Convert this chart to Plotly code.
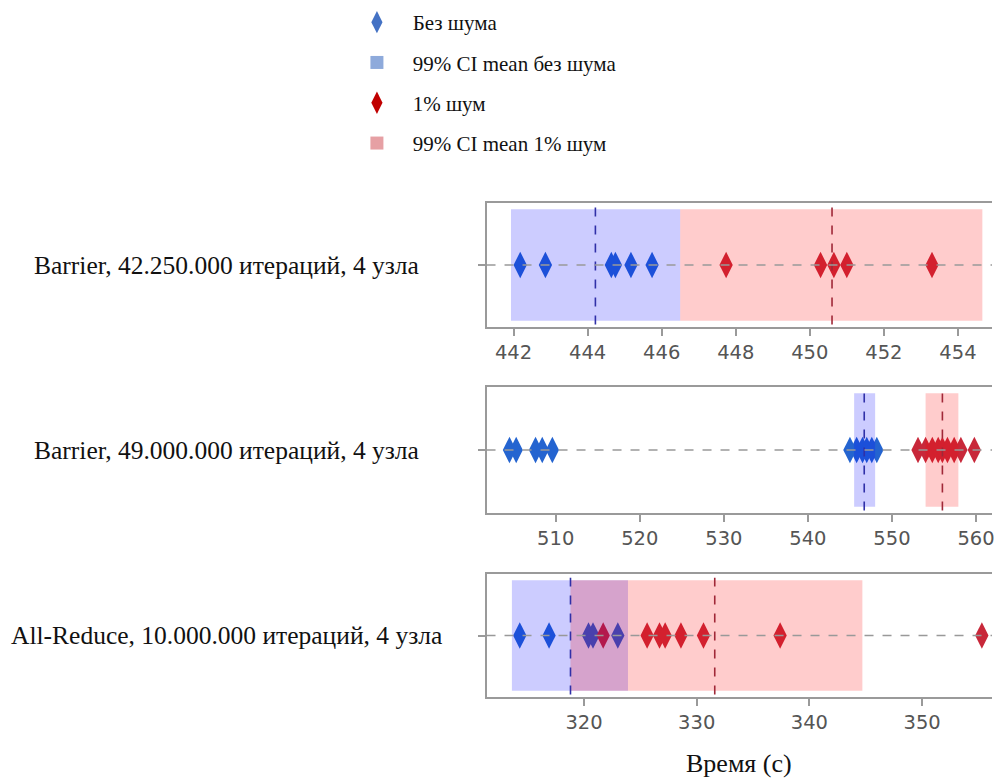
import plotly.graph_objects as go

W, H = 995, 778

# ---------------- data ----------------
row_labels = [
    "Barrier, 42.250.000 итераций, 4 узла",
    "Barrier, 49.000.000 итераций, 4 узла",
    "All-Reduce, 10.000.000 итераций, 4 узла",
]
no_noise_1 = [442.18, 442.86, 444.64, 444.75, 445.17, 445.74]
noise_1 = [447.74, 450.29, 450.65, 451.0, 453.3]
no_noise_2 = [504.5, 505.3, 507.6, 508.4, 509.6, 545.0, 545.8, 546.5, 547.0, 547.6, 548.2]
noise_2 = [553.1, 554.0, 554.8, 555.5, 556.0, 556.6, 557.4, 558.2, 559.8]
no_noise_3 = [314.3, 316.9, 320.4, 320.8, 323.0]
noise_3 = [321.7, 325.6, 326.7, 327.2, 328.6, 330.6, 337.4, 355.3]

no_noise = [no_noise_1, no_noise_2, no_noise_3]
noise = [noise_1, noise_2, noise_3]

mean_no_noise = [444.21, 546.7, 318.8]
mean_noise = [450.6, 556.0, 331.6]
ci_no_noise_lo = [441.93, 545.5, 313.6]
ci_no_noise_hi = [446.5, 548.0, 323.9]
ci_noise_lo = [446.5, 554.0, 318.8]
ci_noise_hi = [454.66, 557.9, 344.7]

x_ranges = [[441.27, 454.92], [501.77, 561.9], [311.35, 356.2]]
x_dticks = [2, 10, 10]

legend_names = ["Без шума", "99% CI mean без шума", "1% шум", "99% CI mean 1% шум"]
axis_title = "Время (с)"

# ---------------- styling ----------------
BLUE = "#2464d0"
RED = "#c8283a"
LEG_BLUE = "#4472c4"
LEG_BLUE_SQ = "#8eaadb"
LEG_RED = "#c00000"
LEG_RED_SQ = "#e6a0a4"
FRAME = "#9a9a9a"
SERIF = "Liberation Serif, Times New Roman, serif"
SANS = "DejaVu Sans, sans-serif"

# panel positions in pixels (top, bottom) from top of page
panels_px = [(203, 327), (387, 513), (574, 697)]
x_left_px = 488

fig = go.Figure()

for i in range(3):
    xa = "x" if i == 0 else f"x{i+1}"
    ya = "y" if i == 0 else f"y{i+1}"
    fig.add_trace(go.Scatter(
        x=no_noise[i], y=[0] * len(no_noise[i]), mode="markers",
        marker=dict(symbol="diamond-tall", size=19, color=BLUE, line=dict(width=0)),
        xaxis=xa, yaxis=ya, showlegend=False, hoverinfo="x"))
    fig.add_trace(go.Scatter(
        x=noise[i], y=[0] * len(noise[i]), mode="markers",
        marker=dict(symbol="diamond-tall", size=19, color=RED, line=dict(width=0)),
        xaxis=xa, yaxis=ya, showlegend=False, hoverinfo="x"))

# legend-only traces
leg_specs = [
    (legend_names[0], "diamond-tall", LEG_BLUE, 16),
    (legend_names[1], "square", LEG_BLUE_SQ, 13),
    (legend_names[2], "diamond-tall", LEG_RED, 16),
    (legend_names[3], "square", LEG_RED_SQ, 13),
]
for k, (name, sym, col, sz) in enumerate(leg_specs):
    fig.add_trace(go.Scatter(
        x=[None], y=[None], mode="markers", name="\u00a0\u00a0\u00a0" + name,
        marker=dict(symbol=sym, size=sz, color=col, line=dict(width=0)),
        legendgroup=f"g{k}", showlegend=True))

shapes = []
annotations = []
layout_axes = {}
for i in range(3):
    xa = "x" if i == 0 else f"x{i+1}"
    ya = "y" if i == 0 else f"y{i+1}"
    top, bot = panels_px[i]
    dom_y = [1 - bot / H, 1 - top / H]
    xkey = "xaxis" if i == 0 else f"xaxis{i+1}"
    ykey = "yaxis" if i == 0 else f"yaxis{i+1}"
    layout_axes[xkey] = dict(
        domain=[x_left_px / W, 1.0], range=x_ranges[i], anchor=ya,
        showline=True, mirror=True, linecolor=FRAME, linewidth=2,
        ticks="outside", ticklen=7, tickwidth=1.5, tickcolor=FRAME,
        dtick=x_dticks[i], showgrid=False, zeroline=False,
        ticklabeloverflow="allow",
        tickfont=dict(family=SANS, size=19.5, color="#555555"),
    )
    layout_axes[ykey] = dict(
        domain=dom_y, range=[-0.5, 0.5], anchor=xa,
        showline=True, mirror=False, linecolor=FRAME, linewidth=2,
        ticks="outside", ticklen=7, tickwidth=1.5, tickcolor=FRAME,
        tickvals=[0], ticktext=[""], showgrid=False, zeroline=False,
    )
    # CI spans
    shapes.append(dict(type="rect", xref=xa, yref=f"{ya} domain",
                       x0=ci_no_noise_lo[i], x1=ci_no_noise_hi[i], y0=0.05, y1=0.95,
                       fillcolor="#0000ff", opacity=0.2, line=dict(width=0), layer="above"))
    shapes.append(dict(type="rect", xref=xa, yref=f"{ya} domain",
                       x0=ci_noise_lo[i], x1=ci_noise_hi[i], y0=0.05, y1=0.95,
                       fillcolor="#ff0000", opacity=0.2, line=dict(width=0), layer="above"))
    # mean lines
    shapes.append(dict(type="line", xref=xa, yref=f"{ya} domain",
                       x0=mean_no_noise[i], x1=mean_no_noise[i], y0=0.02, y1=0.97,
                       line=dict(color="#3030a8", width=1.6, dash="dash"), layer="above"))
    shapes.append(dict(type="line", xref=xa, yref=f"{ya} domain",
                       x0=mean_noise[i], x1=mean_noise[i], y0=0.02, y1=0.97,
                       line=dict(color="#a02838", width=1.6, dash="dash"), layer="above"))
    # horizontal dashed guide
    shapes.append(dict(type="line", xref=f"{xa} domain", yref=ya,
                       x0=0, x1=1, y0=0, y1=0,
                       line=dict(color="#999999", width=1.5, dash="dash"), layer="above"))
    # row label
    annotations.append(dict(text=row_labels[i], xref="paper", yref="paper",
                            x=227 / W, y=1 - (top + bot) / 2 / H,
                            xanchor="center", yanchor="middle", showarrow=False,
                            font=dict(family=SERIF, size=25.5, color="#111111")))

annotations.append(dict(text=axis_title, xref="paper", yref="paper",
                        x=(x_left_px + W) / 2 / W, y=1 - 763 / H,
                        xanchor="center", yanchor="middle", showarrow=False,
                        font=dict(family=SERIF, size=26, color="#111111")))

fig.update_layout(
    width=W, height=H,
    margin=dict(l=0, r=0, t=0, b=0),
    paper_bgcolor="white", plot_bgcolor="white",
    shapes=shapes, annotations=annotations,
    legend=dict(x=358 / W, y=1 - 2 / H, xanchor="left", yanchor="top",
                font=dict(family=SERIF, size=21, color="#111111"),
                tracegroupgap=10, bgcolor="rgba(0,0,0,0)"),
    showlegend=True,
    **layout_axes,
)

fig.write_html("out.html")
